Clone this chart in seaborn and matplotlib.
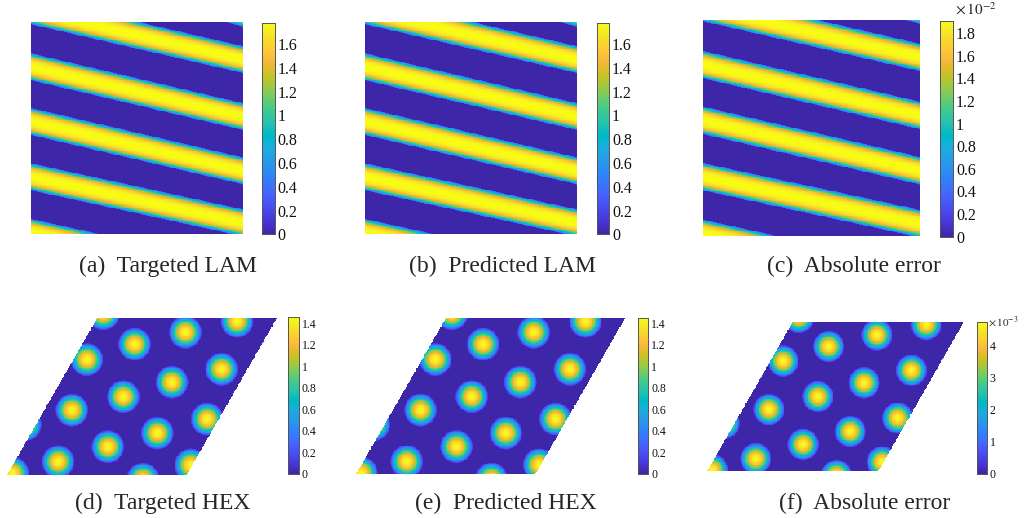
import numpy as np
import matplotlib
matplotlib.use("Agg")
import matplotlib.pyplot as plt
import seaborn as sns
from matplotlib.colors import LinearSegmentedColormap

# ---------------- data ----------------
lam_captions = ["(a)  Targeted LAM", "(b)  Predicted LAM", "(c)  Absolute error"]
hex_captions = ["(d)  Targeted HEX", "(e)  Predicted HEX", "(f)  Absolute error"]

lam_vmax = [1.78, 1.78, 1.91e-2]
hex_vmax = [1.453, 1.453, 4.73e-3]

lam_ticks = [0, 0.2, 0.4, 0.6, 0.8, 1, 1.2, 1.4, 1.6]
lam_err_ticks = [0, 0.2, 0.4, 0.6, 0.8, 1, 1.2, 1.4, 1.6, 1.8]   # x 10^-2
hex_ticks = [0, 0.2, 0.4, 0.6, 0.8, 1, 1.2, 1.4]
hex_err_ticks = [0, 1, 2, 3, 4]                                  # x 10^-3
lam_err_exp = -2
hex_err_exp = -3

# LAM stripes: centre line position (fraction of height from top) at left and right edge
stripe_left = [-0.275, -0.055, 0.209, 0.467, 0.728, 0.99]
stripe_right = [-0.045, 0.175, 0.444, 0.700, 0.945, 1.21]
stripe_halfwidth = 0.064

# HEX dots: centres in rhombus coordinates (u along bottom edge, v along slanted edge)
dot_u = [0.02, 0.536, 0.789, 0.292, 0.075, 0.856, 0.621, 0.397, 0.154,
         0.935, 0.703, 0.471, 0.242, 0.026, 0.77, 0.991, -0.06]
dot_v = [1.03, 0.911, 0.981, 0.834, 0.736, 0.674, 0.591, 0.498, 0.412,
         0.355, 0.265, 0.178, 0.082, 0.008, -0.03, 0.061, 0.32]
dot_radius = 0.091

# ---------------- colormap (MATLAB parula) ----------------
parula_rgb = [
    (0.2422, 0.1504, 0.6603), (0.2504, 0.1650, 0.7076), (0.2578, 0.1818, 0.7511),
    (0.2647, 0.1978, 0.7952), (0.2706, 0.2147, 0.8364), (0.2751, 0.2342, 0.8710),
    (0.2783, 0.2559, 0.8991), (0.2803, 0.2782, 0.9221), (0.2813, 0.3006, 0.9414),
    (0.2810, 0.3228, 0.9579), (0.2795, 0.3447, 0.9717), (0.2760, 0.3667, 0.9829),
    (0.2699, 0.3892, 0.9906), (0.2602, 0.4123, 0.9952), (0.2440, 0.4358, 0.9988),
    (0.2206, 0.4603, 0.9973), (0.1963, 0.4847, 0.9892), (0.1834, 0.5074, 0.9798),
    (0.1786, 0.5289, 0.9682), (0.1764, 0.5499, 0.9520), (0.1687, 0.5703, 0.9359),
    (0.1540, 0.5902, 0.9218), (0.1460, 0.6091, 0.9079), (0.1380, 0.6276, 0.8973),
    (0.1248, 0.6459, 0.8883), (0.1113, 0.6635, 0.8763), (0.0952, 0.6798, 0.8598),
    (0.0689, 0.6948, 0.8394), (0.0297, 0.7082, 0.8163), (0.0036, 0.7203, 0.7917),
    (0.0067, 0.7312, 0.7660), (0.0433, 0.7411, 0.7394), (0.0964, 0.7500, 0.7120),
    (0.1408, 0.7584, 0.6842), (0.1717, 0.7670, 0.6554), (0.1938, 0.7758, 0.6251),
    (0.2161, 0.7843, 0.5923), (0.2470, 0.7918, 0.5567), (0.2906, 0.7973, 0.5188),
    (0.3406, 0.8008, 0.4789), (0.3909, 0.8029, 0.4354), (0.4456, 0.8024, 0.3909),
    (0.5044, 0.7993, 0.3480), (0.5616, 0.7942, 0.3045), (0.6174, 0.7876, 0.2612),
    (0.6720, 0.7793, 0.2227), (0.7242, 0.7698, 0.1910), (0.7738, 0.7598, 0.1646),
    (0.8203, 0.7498, 0.1535), (0.8634, 0.7406, 0.1596), (0.9035, 0.7330, 0.1774),
    (0.9393, 0.7288, 0.2100), (0.9728, 0.7298, 0.2394), (0.9956, 0.7434, 0.2371),
    (0.9970, 0.7659, 0.2199), (0.9952, 0.7893, 0.2028), (0.9892, 0.8136, 0.1885),
    (0.9786, 0.8386, 0.1766), (0.9676, 0.8639, 0.1643), (0.9610, 0.8890, 0.1537),
    (0.9597, 0.9135, 0.1423), (0.9628, 0.9373, 0.1265), (0.9691, 0.9606, 0.1064),
    (0.9769, 0.9839, 0.0805)]
parula = LinearSegmentedColormap.from_list("parula", parula_rgb, N=256)

# ---------------- style ----------------
sns.set_theme(style="white")
plt.rcParams["font.family"] = ["Liberation Serif", "DejaVu Serif"]
plt.rcParams["mathtext.fontset"] = "stix"

W, H = 1025, 518
fig = plt.figure(figsize=(W / 100, H / 100), dpi=100)
fig.patch.set_facecolor("white")


def add_px_axes(x0, y0, x1, y1):
    return fig.add_axes([x0 / W, 1 - y1 / H, (x1 - x0) / W, (y1 - y0) / H])


# ---------------- fields ----------------
def lam_field(vmax, n=260):
    x = (np.arange(n) + 0.5) / n
    y = (np.arange(n) + 0.5) / n
    X, Y = np.meshgrid(x, y)
    t = np.zeros_like(X)
    for L, R in zip(stripe_left, stripe_right):
        c = L + (R - L) * X
        d = np.abs(Y - c) / stripe_halfwidth
        t = np.maximum(t, np.where(d < 1, 1 - 0.86 * d ** 3, 0))
    return vmax * t


def hex_field(vmax, nx=330, ny=190):
    h = np.sqrt(3) / 2
    xs = (np.arange(nx) + 0.5) / nx * 1.5
    ys = h * (1 - (np.arange(ny) + 0.5) / ny)
    X, Y = np.meshgrid(xs, ys)
    v = Y / h
    u = X - 0.5 * v
    mask = (u < 0) | (u > 1) | (v < 0) | (v > 1)
    t = np.zeros_like(X)
    for du, dv in zip(dot_u, dot_v):
        cx = du + 0.5 * dv
        cy = dv * h
        r = np.hypot(X - cx, Y - cy) / dot_radius
        t = np.maximum(t, np.where(r < 1, np.cos(0.48 * np.pi * np.clip(r, 0, 1)), 0))
    return vmax * t, mask


def fmt(v):
    return f"{round(v, 6):g}"


def style_cbar(cax, ticks, scale, labelsize):
    cax.set_yticks([t * scale for t in ticks])
    cax.set_yticklabels([fmt(t) for t in ticks])
    cax.tick_params(axis="y", direction="in", length=2.5, width=0.5, pad=2,
                    labelsize=labelsize, right=True, left=False, colors="#111111")
    for sp in cax.spines.values():
        sp.set_visible(True)
        sp.set_linewidth(0.6)
        sp.set_color("#555555")


lam_boxes = [(31, 22.5, 243, 234.5), (365, 22.5, 577, 234.5), (703, 19.5, 920, 235.5)]
lam_cbars = [(262.3, 22.7, 275, 234.3), (596.7, 22.7, 609.3, 234.3), (940, 20.7, 953.3, 236.7)]
lam_capx = [168, 502, 854]

hex_boxes = [(7.3, 318.3, 276.7, 474.5), (356, 318.3, 625, 474.3), (707.3, 321.7, 964, 471)]
hex_cbars = [(288.3, 317.3, 299, 474), (637.7, 317.5, 648.3, 474), (976.7, 322, 986.7, 473.5)]
hex_capx = [163, 506, 865]

# ---------------- top row: LAM ----------------
for i in range(3):
    ax = add_px_axes(*lam_boxes[i])
    cax = add_px_axes(*lam_cbars[i])
    data = lam_field(lam_vmax[i])
    sns.heatmap(data, ax=ax, cbar_ax=cax, cmap=parula, vmin=0, vmax=lam_vmax[i],
                xticklabels=False, yticklabels=False)
    ax.set_axis_off()
    if i < 2:
        style_cbar(cax, lam_ticks, 1.0, 11.5)
    else:
        style_cbar(cax, lam_err_ticks, 10.0 ** lam_err_exp, 11.5)
        fig.text(955 / W, 1 - 15 / H, r"$\times\,10^{%d}$" % lam_err_exp,
                 ha="left", va="baseline", fontsize=11)
    fig.text(lam_capx[i] / W, 1 - 272 / H, lam_captions[i], ha="center",
             va="baseline", fontsize=17)

# ---------------- bottom row: HEX ----------------
for i in range(3):
    ax = add_px_axes(*hex_boxes[i])
    cax = add_px_axes(*hex_cbars[i])
    data, mask = hex_field(hex_vmax[i])
    sns.heatmap(data, mask=mask, ax=ax, cbar_ax=cax, cmap=parula, vmin=0,
                vmax=hex_vmax[i], xticklabels=False, yticklabels=False)
    ax.set_axis_off()
    if i < 2:
        style_cbar(cax, hex_ticks, 1.0, 8.5)
    else:
        style_cbar(cax, hex_err_ticks, 10.0 ** hex_err_exp, 8.5)
        fig.text(987.5 / W, 1 - 326 / H, r"$\times\,10^{%d}$" % hex_err_exp,
                 ha="left", va="baseline", fontsize=8)
    fig.text(hex_capx[i] / W, 1 - 509 / H, hex_captions[i], ha="center",
             va="baseline", fontsize=17)

fig.savefig("out.png", dpi=100, facecolor="white")
